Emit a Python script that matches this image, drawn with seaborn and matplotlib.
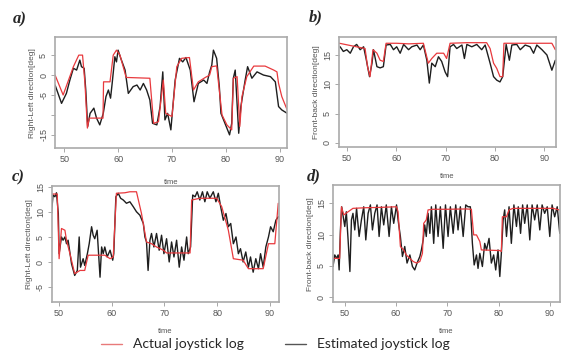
import matplotlib
matplotlib.use('Agg')
import matplotlib.pyplot as plt
import seaborn as sns
from matplotlib.lines import Line2D

# ---- a) right-left, actual (red) and estimated (black)
red_a_t = [48.3, 49.8, 51.7, 52.7, 53.4, 53.85, 54.3, 54.65, 57.2, 57.3, 58.5, 59.1, 59.7, 60.35, 61.5,
           65.9, 66.6, 67.5, 68.4, 68.85, 70.0, 70.9, 71.8, 73.25, 74.0, 74.9, 76.2, 77.0, 77.4, 78.3,
           79.3, 80.2, 81.1, 81.4, 82.1, 82.6, 83.0, 83.9, 85.2, 87.3, 88.9, 89.5, 89.8, 90.4, 91.4]
red_a_v = [0.0, -5.0, 2.1, 5.0, 5.0, -2.1, -13.3, -10.8, -10.8, -1.7, -1.7, 5.0, 6.25, 5.0, -0.6,
           -0.8, -12.1, -11.7, -1.25, -9.6, -10.4, 2.1, 4.2, 4.4, -3.75, -1.7, -0.6, 0.0, 2.1, 2.3,
           -10.0, -12.5, -13.75, -0.8, -0.4, -12.9, -5.4, -0.4, 2.25, 2.25, 1.25, 0.8, -2.1, -5.4, -8.75]
blk_a_t = [48.3, 49.5, 50.4, 51.05, 51.7, 52.3, 52.9, 53.2, 53.7, 54.0, 54.35, 54.8, 55.5, 56.0, 56.6,
           57.25, 57.75, 58.2, 58.6, 58.9, 59.4, 59.7, 60.0, 60.5, 61.3, 61.9, 62.8, 63.5, 64.1, 64.7,
           65.3, 65.9, 66.4, 67.2, 67.8, 68.3, 68.7, 69.2, 69.8, 70.6, 71.4, 72.0, 72.6, 73.4, 74.1,
           74.9, 75.9, 76.5, 77.0, 77.4, 77.7, 78.3, 78.8, 79.1, 80.2, 80.7, 81.1, 81.4, 81.75, 82.4,
           82.8, 83.6, 84.05, 84.85, 85.8, 87.0, 88.3, 89.2, 89.8, 90.4, 91.4]
blk_a_v = [-2.5, -7.1, -4.6, -1.25, 1.7, 1.25, 3.75, 2.1, 1.7, -3.75, -12.9, -9.6, -8.3, -10.8, -12.5,
           -9.6, -5.4, -3.75, -5.8, -2.1, 4.6, 3.3, 6.25, 4.2, 1.25, -4.6, -2.9, -2.5, -3.75, -2.1,
           -3.75, -6.25, -12.1, -12.5, -7.9, 0.8, -11.25, -9.6, -13.75, -1.25, 4.2, 3.3, 4.4, 1.25, -6.7,
           -2.1, -1.25, -2.1, 0.8, 2.5, 6.25, 4.2, -2.9, -9.6, -13.3, -15.0, -12.1, -0.8, 1.25, -14.6,
           -7.9, -1.25, 2.1, -0.8, 0.8, 0.0, -0.4, -1.7, -7.9, -8.75, -9.6]

# ---- b) front-back
red_b_t = [48.5, 53.7, 54.2, 54.7, 55.3, 56.1, 56.75, 57.4, 57.95, 60.1, 62.5, 65.5, 66.5, 67.2, 68.2,
           69.6, 70.2, 70.9, 74.3, 78.3, 79.0, 79.7, 80.35, 81.0, 81.55, 81.8, 85.1, 88.45, 91.5, 92.2]
red_b_v = [17.0, 16.1, 13.0, 11.3, 15.9, 15.3, 14.1, 13.9, 17.0, 17.0, 16.9, 17.0, 13.6, 14.4, 15.3,
           15.3, 14.4, 17.0, 17.1, 17.1, 16.1, 13.6, 12.7, 11.3, 11.3, 17.0, 17.0, 17.0, 17.0, 15.9]
blk_b_t = [48.65, 49.3, 50.0, 50.7, 51.35, 52.0, 52.7, 53.4, 53.9, 54.6, 55.1, 55.4, 56.1, 56.75, 57.4,
           57.95, 58.8, 59.45, 60.1, 60.8, 61.5, 62.5, 63.15, 64.2, 64.85, 65.5, 66.2, 66.7, 67.2, 67.9,
           68.55, 69.2, 69.9, 70.4, 70.9, 71.6, 72.25, 73.3, 73.8, 74.3, 75.3, 76.3, 77.3, 78.0, 79.0,
           79.7, 80.35, 81.0, 81.55, 82.25, 82.9, 83.4, 84.4, 85.1, 86.1, 87.1, 87.8, 88.45, 89.5, 90.5,
           91.5, 92.2]
blk_b_v = [16.4, 15.6, 15.9, 15.3, 16.4, 16.8, 15.9, 16.4, 14.4, 11.3, 13.6, 15.9, 13.0, 12.8, 13.0,
           16.7, 16.8, 15.9, 16.4, 15.3, 16.8, 15.9, 16.4, 16.7, 15.9, 16.7, 14.1, 10.2, 13.6, 13.0,
           14.7, 13.9, 12.1, 11.3, 16.4, 16.8, 16.1, 16.7, 14.4, 16.8, 16.4, 16.8, 15.9, 16.7, 13.6,
           11.3, 10.7, 10.4, 11.3, 16.8, 14.1, 16.7, 16.8, 15.9, 16.7, 16.4, 15.3, 16.7, 15.9, 15.0,
           12.4, 14.1]

# ---- c) right-left, second run
red_c_t = [48.6, 49.7, 50.05, 50.5, 51.15, 51.45, 52.1, 53.0, 54.0, 54.9, 55.55, 58.7, 59.7, 60.3, 60.9,
           62.5, 63.45, 64.7, 65.65, 66.6, 67.55, 68.5, 69.8, 70.4, 74.85, 75.15, 76.7, 79.9, 80.85, 82.1,
           83.05, 84.9, 85.9, 88.7, 89.7, 90.9, 91.55]
red_c_v = [13.65, 13.65, 0.7, 6.75, 6.4, 4.4, 1.7, -2.3, -1.65, -1.65, 1.4, 1.4, 0.7, 1.05, 13.8,
           13.9, 14.1, 14.1, 9.75, 4.05, 3.7, 3.05, 2.4, 1.85, 1.85, 12.45, 12.8, 12.8, 11.1, 6.4,
           0.7, 0.4, -1.3, -1.3, 3.7, 3.7, 11.8]
blk_c_t = [48.6, 48.9, 49.25, 49.55, 49.9, 50.05, 50.5, 50.8, 51.15, 51.45, 51.75, 52.4, 53.0, 53.5, 53.85,
           54.1, 54.6, 54.9, 55.4, 55.75, 56.2, 56.5, 56.8, 57.25, 57.8, 58.1, 58.4, 58.7, 59.15, 59.7,
           60.2, 60.4, 60.8, 61.25, 61.7, 62.2, 62.8, 63.45, 64.1, 64.7, 65.35, 66.0, 66.3, 66.6, 66.9,
           67.25, 67.55, 68.0, 68.5, 69.0, 69.45, 69.9, 70.4, 70.9, 71.35, 71.8, 72.3, 72.8, 73.25, 73.7,
           74.2, 74.5, 74.95, 75.35, 75.8, 76.2, 76.7, 77.2, 77.65, 78.1, 78.6, 79.25, 79.75, 80.2, 80.65,
           81.15, 81.65, 82.1, 82.55, 83.05, 83.55, 84.0, 84.4, 84.9, 85.4, 85.9, 86.3, 86.8, 87.3, 87.8,
           88.2, 88.7, 89.2, 89.7, 90.1, 90.6, 91.1, 91.55]
blk_c_v = [9.75, 13.45, 13.1, 13.9, 9.75, 1.7, 5.05, 4.4, 5.05, 3.7, 4.4, -0.3, -2.65, -1.65, 5.05,
           -1.0, 0.7, -0.65, 1.7, 3.7, 7.1, 5.4, 4.7, 6.4, -3.0, 3.05, 1.7, 3.05, 1.05, 2.4,
           0.4, 1.7, 13.1, 13.8, 12.8, 12.45, 11.8, 12.1, 11.1, 10.1, 9.4, 7.75, 5.05, 4.05, -1.65,
           4.4, 5.75, 3.05, 5.75, 2.4, 5.4, 1.7, 4.7, 0.05, 4.05, 1.05, 4.4, -1.0, 3.05, 0.4,
           5.05, 1.7, 3.05, 13.45, 13.1, 14.1, 12.45, 14.1, 12.1, 14.1, 12.8, 14.1, 12.1, 13.8, 11.1,
           8.4, 9.75, 7.1, 7.75, 3.7, 5.05, 1.7, 2.7, 0.05, 2.05, -1.0, 1.05, -2.0, 0.7, -1.3,
           1.7, -1.0, 3.05, 5.05, 7.1, 6.1, 8.4, 9.1]

# ---- d) front-back, second run
red_d_t = [47.7, 49.0, 49.35, 49.8, 50.65, 51.6, 54.2, 56.8, 60.1, 60.4, 60.85, 61.5, 62.0, 62.7, 63.35,
           64.0, 64.65, 65.15, 65.4, 65.9, 66.25, 67.2, 69.85, 73.75, 74.7, 75.15, 75.7, 76.35, 76.65, 80.25,
           80.55, 80.75, 81.55, 82.05, 82.85, 88.05, 90.65, 91.8]
red_d_v = [6.2, 6.2, 14.45, 13.15, 13.65, 14.2, 14.3, 14.35, 14.45, 13.65, 8.1, 7.55, 6.75, 6.2, 5.7,
           5.45, 5.7, 7.0, 11.8, 12.35, 13.95, 14.05, 14.05, 14.1, 14.05, 9.95, 9.95, 8.9, 7.55, 7.45,
           7.3, 12.85, 12.85, 13.95, 14.2, 14.2, 14.2, 13.95]
blk_d_t = [47.7, 48.05, 48.4, 48.7, 48.9, 49.15, 49.4, 49.7, 50.0, 50.3, 50.65, 51.0, 51.3, 51.6, 51.95,
           52.3, 52.8, 53.25, 53.7, 54.1, 54.55, 55.0, 55.4, 55.85, 56.3, 56.7, 57.15, 57.6, 58.1, 58.65,
           59.1, 59.55, 60.1, 60.4, 60.85, 61.25, 61.7, 62.15, 62.7, 63.2, 63.65, 64.1, 64.65, 64.95, 65.3,
           65.6, 65.9, 66.25, 66.6, 66.9, 67.35, 67.75, 68.2, 68.65, 69.2, 69.65, 70.15, 70.6, 71.15, 71.65,
           72.1, 72.55, 73.1, 73.6, 74.05, 74.5, 74.9, 75.25, 75.7, 76.0, 76.35, 76.85, 77.3, 77.65, 78.15,
           78.6, 79.05, 79.45, 79.9, 80.25, 80.55, 80.9, 81.2, 81.55, 82.05, 82.5, 83.0, 83.5, 83.85, 84.3,
           84.7, 85.1, 85.6, 86.1, 86.55, 87.05, 87.55, 88.05, 88.5, 89.0, 89.5, 90.0, 90.45, 90.95, 91.45,
           91.95]
blk_d_v = [4.9, 6.75, 6.2, 6.75, 4.35, 10.75, 14.45, 12.85, 11.3, 13.65, 9.15, 4.1, 12.35, 13.4, 10.75,
           14.2, 9.7, 12.35, 14.45, 9.15, 13.4, 14.75, 10.75, 13.4, 14.75, 9.7, 14.45, 11.55, 14.75, 9.7,
           14.45, 11.8, 14.75, 12.35, 9.7, 6.5, 8.1, 5.45, 6.75, 4.9, 4.35, 5.45, 6.5, 7.55, 9.15,
           11.55, 9.7, 13.4, 10.2, 14.45, 8.6, 14.75, 9.7, 14.45, 7.8, 14.75, 9.7, 14.45, 10.2, 14.75,
           10.75, 14.45, 9.7, 14.75, 14.45, 14.45, 8.6, 5.15, 6.75, 4.6, 7.0, 4.9, 8.6, 7.55, 9.4,
           5.45, 6.75, 4.35, 7.55, 3.3, 7.0, 12.35, 13.95, 9.7, 14.45, 8.6, 14.75, 11.3, 14.45, 10.2,
           14.75, 11.8, 14.75, 9.15, 14.75, 12.35, 14.75, 10.75, 14.75, 13.4, 14.45, 9.7, 14.75, 12.85, 14.45,
           10.2]

x_ticks = [50, 60, 70, 80, 90]
rl_label = 'Right-Left direction[deg]'
fb_label = 'Front-back direction[deg]'

sns.set_style('white')
plt.rcParams['font.family'] = ['Liberation Sans', 'DejaVu Sans']

RED = '#e8393d'
BLK = '#1e1e1e'
GRAY = '#9a9a9a'

fig = plt.figure(figsize=(5.62, 3.61), dpi=100)

panels = [
    # rect, red, black, xlim, ylim, yticks, yticklabels, ylabel, tag, tag pos, xlabel pad
    ([0.098, 0.590, 0.413, 0.307], (red_a_t, red_a_v), (blk_a_t, blk_a_v), (48.3, 91.4), (-18.3, 9.5),
     [-15, -10, -5, 0, 5], ['-15', '', '-5', '0', '5'], rl_label, 'a)', (20, 19), 11),
    ([0.603, 0.593, 0.386, 0.305], (red_b_t, red_b_v), (blk_b_t, blk_b_v), (48.4, 92.3), (-0.7, 18.1),
     [0, 5, 10, 15], ['0', '5', '10', '15'], fb_label, 'b)', (316, 17), 7.5),
    ([0.0925, 0.163, 0.404, 0.321], (red_c_t, red_c_v), (blk_c_t, blk_c_v), (48.7, 91.7), (-8, 15.2),
     [-5, 0, 5, 10, 15], ['-5', '0', '5', '10', '15'], rl_label, 'c)', (18, 177), 7),
    ([0.5925, 0.163, 0.404, 0.324], (red_d_t, red_d_v), (blk_d_t, blk_d_v), (47.7, 92.0), (-0.8, 17.9),
     [0, 5, 10, 15], ['0', '5', '10', '15'], fb_label, 'd)', (314, 176), 7),
]

for rect, red, blk, xl, yl, yt, ytl, ylab, tag, tpos, xpad in panels:
    ax = fig.add_axes(rect)
    sns.lineplot(x=blk[0], y=blk[1], ax=ax, color=BLK, lw=1.0, estimator=None, sort=False)
    sns.lineplot(x=red[0], y=red[1], ax=ax, color=RED, lw=0.9, estimator=None, sort=False)
    ax.set_xlim(*xl)
    ax.set_ylim(*yl)
    ax.set_xticks(x_ticks)
    ax.set_yticks(yt)
    ax.set_yticklabels(ytl, rotation=90, va='center')
    ax.tick_params(axis='both', length=3, width=0.6, color=GRAY, labelcolor='#555555',
                   labelsize=6.5, pad=2, left=True, bottom=True)
    for s in ax.spines.values():
        s.set_color('#aaaaaa')
        s.set_linewidth(1.2)
    ax.set_ylabel(ylab, fontsize=6, color='#555555', labelpad=2)
    ax.set_xlabel('time', fontsize=5.5, color='#555555', labelpad=xpad)
    fig.text(tpos[0] / 562, 1 - tpos[1] / 361, tag, family='Liberation Serif', fontsize=12,
             fontweight='bold', style='italic', ha='center', va='center')

handles = [Line2D([], [], color='#e87a7a', lw=1.0), Line2D([], [], color='#555555', lw=1.0)]
fig.legend(handles, ['Actual joystick log', 'Estimated joystick log'], loc='center',
           bbox_to_anchor=(0.49, 0.046), ncol=2, frameon=False, handlelength=1.5,
           columnspacing=3.0, handletextpad=0.8, prop={'family': 'Lato', 'size': 10})

fig.savefig('out.png', dpi=100)
